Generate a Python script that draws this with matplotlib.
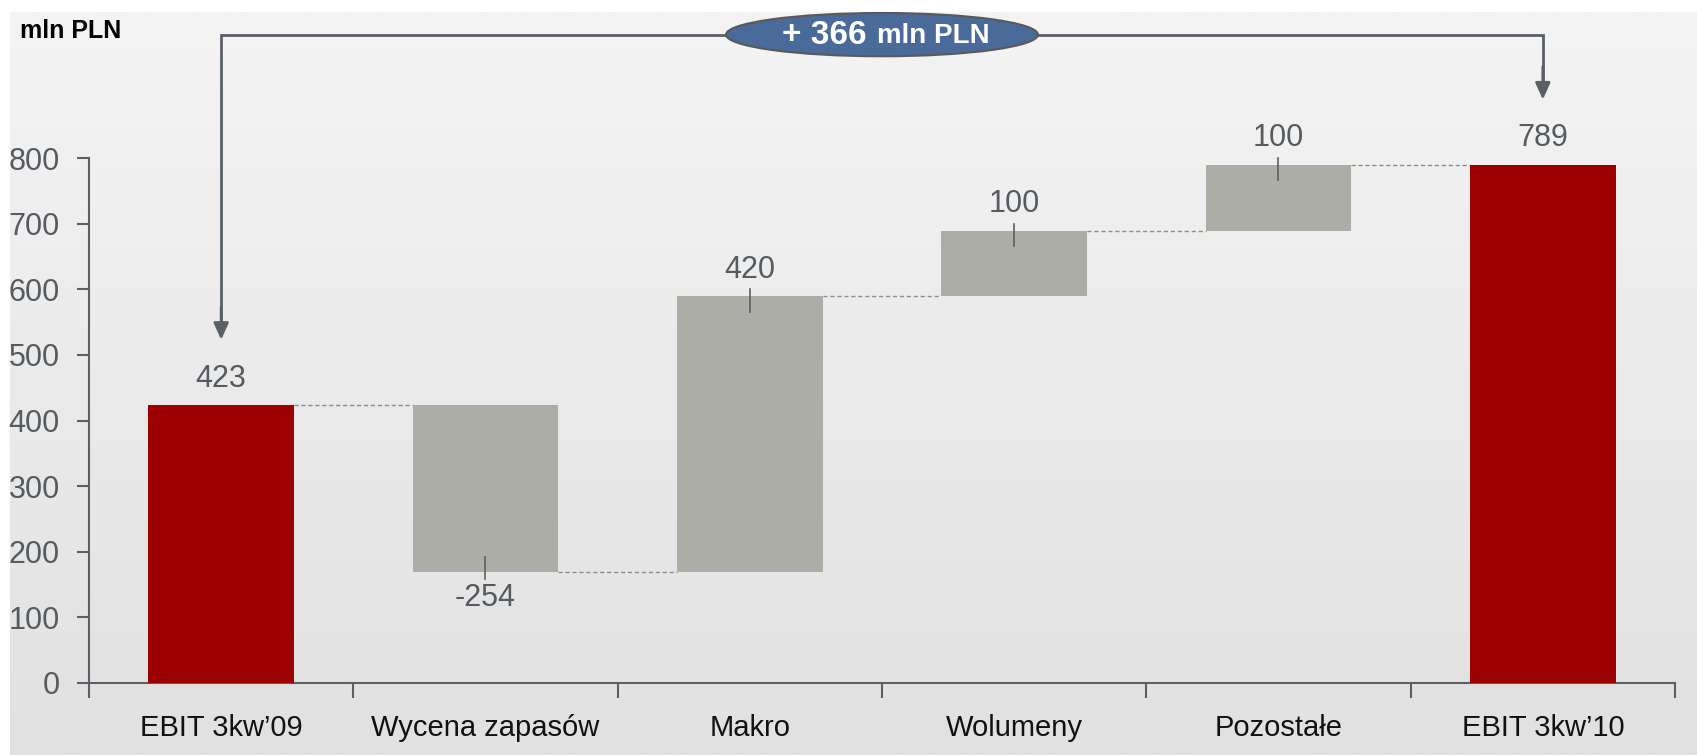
import numpy as np
import matplotlib.pyplot as plt
from matplotlib.patches import Ellipse

plt.rcParams['font.family'] = ['Liberation Sans', 'DejaVu Sans']

categories = ["EBIT 3kw’09", "Wycena zapasów", "Makro", "Wolumeny", "Pozostałe", "EBIT 3kw’10"]
values = [423, -254, 420, 100, 100, 789]
is_total = [True, False, False, False, False, True]
y_ticks = [0, 100, 200, 300, 400, 500, 600, 700, 800]
unit = "mln PLN"

red = "#9c0000"
grey_bar = "#adada8"
axis_col = "#5a6066"
text_col = "#555b60"

# waterfall geometry
bottoms, heights, levels = [], [], []
running = 0
for v, tot in zip(values, is_total):
    if tot:
        bottoms.append(0)
        heights.append(v)
        running = v
    else:
        bottoms.append(running if v >= 0 else running + v)
        heights.append(abs(v))
        running += v
    levels.append(running)

x = np.arange(len(categories))
width = 0.55

fig = plt.figure(figsize=(16.97, 7.55), dpi=100)

# background gradient panel
bg = fig.add_axes([0, 0, 1, 1], zorder=-5)
grad = np.linspace(0, 1, 256).reshape(-1, 1)
top_c = np.array([0xf4, 0xf4, 0xf4]) / 255
bot_c = np.array([0xe1, 0xe1, 0xe1]) / 255
img = top_c + (bot_c - top_c) * grad[:, :, None]
bg.imshow(img, aspect='auto', extent=[10 / 1697, 1, 0, 1 - 12 / 755])
bg.set_xlim(0, 1)
bg.set_ylim(0, 1)
bg.axis('off')

ax = fig.add_axes([89 / 1697, 72 / 755, 1586 / 1697, 1040 * 0.65625 / 755])
ax.patch.set_alpha(0)
ax.set_xlim(-0.5, len(categories) - 0.5)
ax.set_ylim(0, 1040)

colors = [red if t else grey_bar for t in is_total]
ax.bar(x, heights, width, bottom=bottoms, color=colors, zorder=3)

# dashed connectors
for i in range(len(categories) - 1):
    ax.plot([x[i] + width / 2, x[i + 1] - width / 2], [levels[i], levels[i]],
            ls=(0, (3, 2)), lw=1, color="#8c8c8c", zorder=2)

# value labels and leader ticks
for i, (v, tot) in enumerate(zip(values, is_total)):
    lab = f"{v}"
    if tot:
        ax.text(x[i], v + 18, lab, ha='center', va='bottom', fontsize=22, color=text_col)
        continue
    if v >= 0:
        edge = bottoms[i] + heights[i]
        ax.plot([x[i], x[i]], [edge - 23, edge + 11], color=axis_col, lw=1.2, zorder=4)
        ax.text(x[i], edge + 18, lab, ha='center', va='bottom', fontsize=22, color=text_col)
    else:
        edge = bottoms[i]
        ax.plot([x[i], x[i]], [edge + 23, edge - 11], color=axis_col, lw=1.2, zorder=4)
        ax.text(x[i], edge - 16, lab, ha='center', va='top', fontsize=22, color=text_col)

# axes styling
for s in ['top', 'right']:
    ax.spines[s].set_visible(False)
ax.spines['left'].set_bounds(0, max(y_ticks))
ax.spines['left'].set_color(axis_col)
ax.spines['bottom'].set_color(axis_col)
ax.spines['left'].set_linewidth(1.5)
ax.spines['bottom'].set_linewidth(1.5)
ax.set_yticks(y_ticks)
ax.tick_params(axis='y', length=9, width=1.5, color=axis_col, labelsize=22,
               labelcolor=text_col, pad=12)
ax.set_xticks(np.arange(len(categories) + 1) - 0.5)
ax.set_xticklabels([])
ax.tick_params(axis='x', which='major', length=11, width=1.5, color=axis_col)
ax.set_xticks(x, minor=True)
ax.set_xticklabels(categories, minor=True)
ax.tick_params(axis='x', which='minor', length=0, pad=22, labelsize=21, labelcolor="#111111")

# total change bracket
delta = values[-1] - values[0]
bracket_y = 988
ax.plot([x[0], x[0], x[-1], x[-1]], [values[0] + 125, bracket_y, bracket_y, values[-1] + 125],
        color=axis_col, lw=2, clip_on=False, zorder=5, solid_joinstyle='miter')
for xi, vi in [(x[0], values[0]), (x[-1], values[-1])]:
    ax.annotate("", xy=(xi, vi + 100), xytext=(xi, vi + 150),
                arrowprops=dict(arrowstyle='-|>,head_length=1.0,head_width=0.45',
                                color=axis_col, lw=2, shrinkA=0, shrinkB=0),
                annotation_clip=False, zorder=5)

mid = (x[0] + x[-1]) / 2
ell = Ellipse((mid, bracket_y), 1.18, 66, facecolor="#4a6a9a", edgecolor="#5a5a5a",
              lw=1.5, clip_on=False, zorder=6)
ax.add_patch(ell)
ax.text(mid - 0.06, bracket_y - 2, f"+ {delta}", ha='right', va='center', fontsize=24,
        fontweight='bold', color='white', zorder=7)
ax.text(mid - 0.02, bracket_y - 2, unit, ha='left', va='center', fontsize=20,
        fontweight='bold', color='white', zorder=7)

fig.text(20 / 1697, 1 - 38 / 755, unit, ha='left', va='baseline', fontsize=18,
         fontweight='bold', color='black')

fig.savefig("out.png", dpi=100)
